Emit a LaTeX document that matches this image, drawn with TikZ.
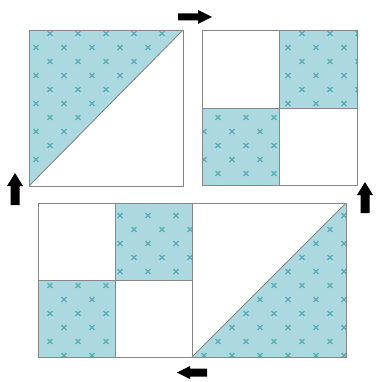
\documentclass[tikz,border=0pt]{standalone}
\definecolor{fabricblue}{RGB}{172,217,223}
\definecolor{fabricmark}{RGB}{90,170,180}
\definecolor{seam}{RGB}{135,135,135}
\tikzset{
  fabric/.style={fill=fabricblue},
  xmark/.style={draw=fabricmark,line width=1.1pt},
  seamline/.style={draw=seam,line width=0.9pt},
  bigarrow/.style={fill=black}
}
\newcommand\fabricpatch[1]{%
  \begin{scope}
    \fill[fabric] #1;
    \clip #1;
    \foreach \x in {-6,22,...,370} {
      \foreach \y in {5.5,33.5,...,380} {
        \draw[xmark] (\x,\y) +(-2.4,-2.4) -- +(2.4,2.4) +(-2.4,2.4) -- +(2.4,-2.4);
        \draw[xmark] (\x+14,\y+14) +(-2.4,-2.4) -- +(2.4,2.4) +(-2.4,2.4) -- +(2.4,-2.4);
      }
    }
  \end{scope}}
\begin{document}
\begin{tikzpicture}[x=1pt,y=-1pt]
\useasboundingbox[fill=white] (0,0) rectangle (375,382);
% top-left square: half-square triangle
\fabricpatch{(29,30) -- (183,30) -- (29,186) -- cycle}
\draw[seamline] (29,30) rectangle (183,186);
\draw[seamline] (29,186) -- (183,30);
% top-right square: four patch
\fabricpatch{(279,30) rectangle (357,108)}
\fabricpatch{(202,108) rectangle (279,185)}
\draw[seamline] (202,30) rectangle (357,185);
\draw[seamline] (279,30) -- (279,185) (202,108) -- (357,108);
% bottom left: four patch
\fabricpatch{(115,203) rectangle (192,280)}
\fabricpatch{(38,280) rectangle (115,357)}
\draw[seamline] (38,203) rectangle (192,357);
\draw[seamline] (115,203) -- (115,357) (38,280) -- (192,280);
% bottom right: half-square triangle
\fabricpatch{(192,357) -- (346,357) -- (346,203) -- cycle}
\draw[seamline] (192,203) rectangle (346,357);
\draw[seamline] (192,357) -- (346,203);
% arrows
\fill[bigarrow] (178,13.5) -- (198,13.5) -- (198,10) -- (212,17) -- (198,24) -- (198,20.5) -- (178,20.5) -- cycle;
\fill[bigarrow] (10.5,205) -- (10.5,186) -- (7,186) -- (15,173) -- (23,186) -- (19.5,186) -- (19.5,205) -- cycle;
\fill[bigarrow] (360.5,213) -- (360.5,195) -- (357,195) -- (365,182) -- (373,195) -- (369.5,195) -- (369.5,213) -- cycle;
\fill[bigarrow] (207,368.5) -- (190,368.5) -- (190,366) -- (177,372.5) -- (190,379) -- (190,376.5) -- (207,376.5) -- cycle;
\end{tikzpicture}
\end{document}
